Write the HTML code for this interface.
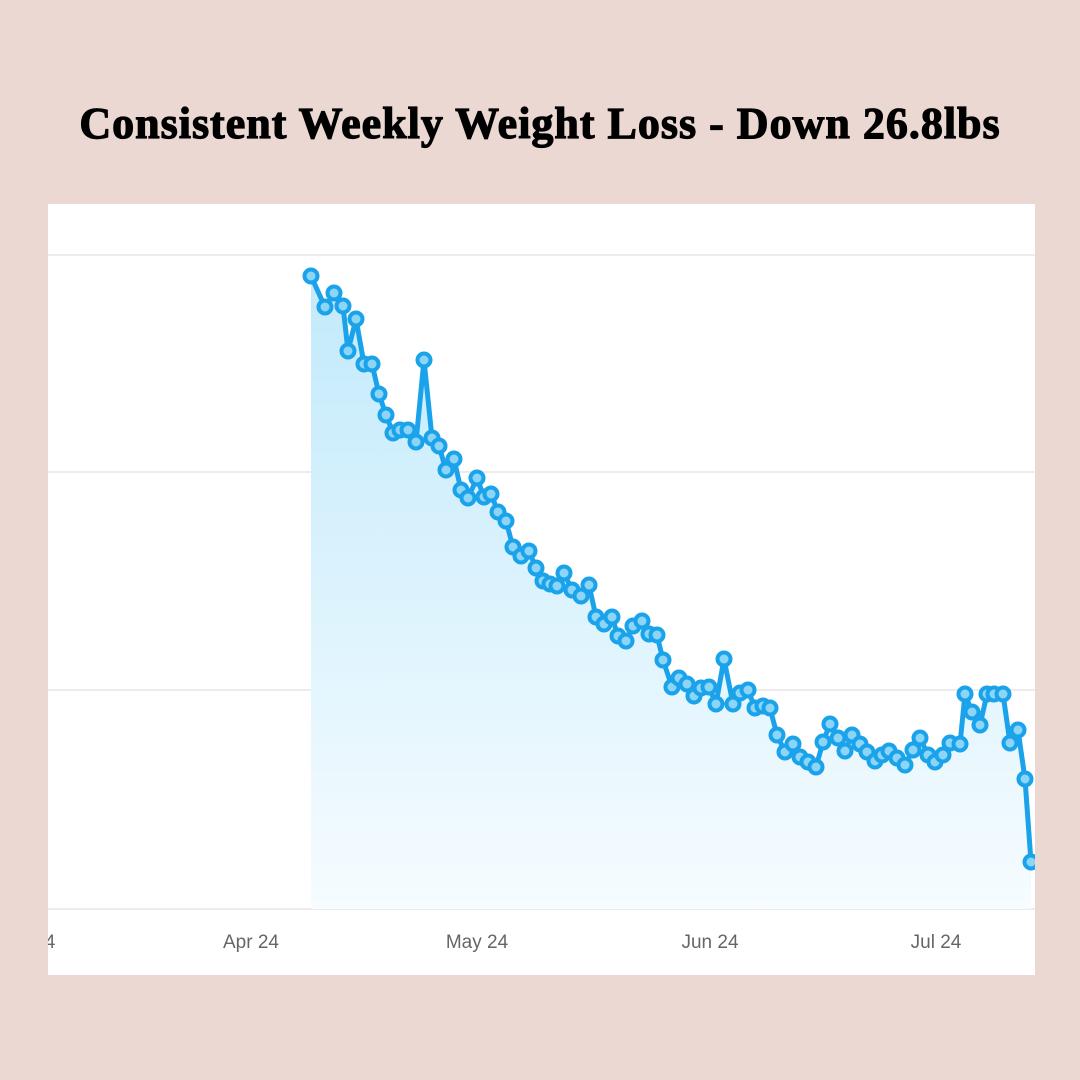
<!DOCTYPE html>
<html><head><meta charset="utf-8"><style>
html,body{margin:0;padding:0;width:1080px;height:1080px;background:#ecd8d3;overflow:hidden}
.t{position:absolute;top:98px;left:0;width:1080px;text-align:center;font-family:"Liberation Serif",serif;font-weight:bold;font-size:44px;color:#000;letter-spacing:1px;-webkit-text-stroke:1.2px #000;z-index:2}
svg{position:absolute;left:0;top:0}
</style></head><body>
<div class="t">Consistent Weekly Weight Loss - Down 26.8lbs</div>
<svg width="1080" height="1080" viewBox="0 0 1080 1080">
<defs>
<linearGradient id="g" gradientUnits="userSpaceOnUse" x1="0" y1="276" x2="0" y2="909">
<stop offset="0" stop-color="#c2eafb"/><stop offset="1" stop-color="#f6fcff"/>
</linearGradient>
<marker id="m" markerWidth="24" markerHeight="24" refX="12" refY="12" markerUnits="userSpaceOnUse">
<circle cx="12" cy="12" r="6.5" fill="#8dd5f6" stroke="#1aa3ea" stroke-width="4"/>
</marker>
</defs>
<rect x="48" y="204" width="987" height="771" fill="#fff"/>
<g stroke="#e6e6e6" stroke-width="1.5">
<line x1="48" y1="255" x2="1035" y2="255"/>
<line x1="48" y1="472" x2="1035" y2="472"/>
<line x1="48" y1="690" x2="1035" y2="690"/>
<line x1="48" y1="909" x2="1035" y2="909"/>
</g>
<polygon fill="url(#g)" points="311,276 325,307 334,293 343,306 348,351 356,319 364,364 372,364 379,394 386,415 393,433 400,430 408,430 416,442 424,360 432,438 439,446 446,470 454,459 461,490 468,498 477,478 484,497 491,494 498,512 506,521 513,547 521,556 529,551 536,568 543,581 550,584 557,586 564,573 572,590 581,596 589,585 596,617 604,624 612,617 618,636 626,641 633,626 642,621 649,634 657,635 663,660 672,687 679,678 687,684 694,696 701,688 709,687 716,704 724,659 733,704 740,693 748,690 755,708 763,706 770,708 777,735 785,752 793,744 800,757 808,762 816,767 823,742 830,724 838,738 845,751 852,735 860,744 867,752 875,761 882,755 889,751 897,758 905,765 913,750 920,738 928,755 935,762 943,755 950,743 960,744 965,694 972,712 980,725 987,694 994,694 1003,694 1010,743 1018,730 1025,779 1031,862 1031,909 311,909"/>
<polyline fill="none" stroke="#1aa3ea" stroke-width="5" stroke-linejoin="round" marker-start="url(#m)" marker-mid="url(#m)" marker-end="url(#m)" points="311,276 325,307 334,293 343,306 348,351 356,319 364,364 372,364 379,394 386,415 393,433 400,430 408,430 416,442 424,360 432,438 439,446 446,470 454,459 461,490 468,498 477,478 484,497 491,494 498,512 506,521 513,547 521,556 529,551 536,568 543,581 550,584 557,586 564,573 572,590 581,596 589,585 596,617 604,624 612,617 618,636 626,641 633,626 642,621 649,634 657,635 663,660 672,687 679,678 687,684 694,696 701,688 709,687 716,704 724,659 733,704 740,693 748,690 755,708 763,706 770,708 777,735 785,752 793,744 800,757 808,762 816,767 823,742 830,724 838,738 845,751 852,735 860,744 867,752 875,761 882,755 889,751 897,758 905,765 913,750 920,738 928,755 935,762 943,755 950,743 960,744 965,694 972,712 980,725 987,694 994,694 1003,694 1010,743 1018,730 1025,779 1031,862"/>
<rect x="1035" y="204" width="45" height="771" fill="#ecd8d3"/>
<g font-family="Liberation Sans, sans-serif" font-size="19" fill="#666" text-anchor="middle">
<text x="251" y="948">Apr 24</text>
<text x="477" y="948">May 24</text>
<text x="710" y="948">Jun 24</text>
<text x="936" y="948">Jul 24</text>
<text x="50" y="948">4</text>
</g>
<rect x="0" y="204" width="48" height="771" fill="#ecd8d3"/>
</svg>
</body></html>
